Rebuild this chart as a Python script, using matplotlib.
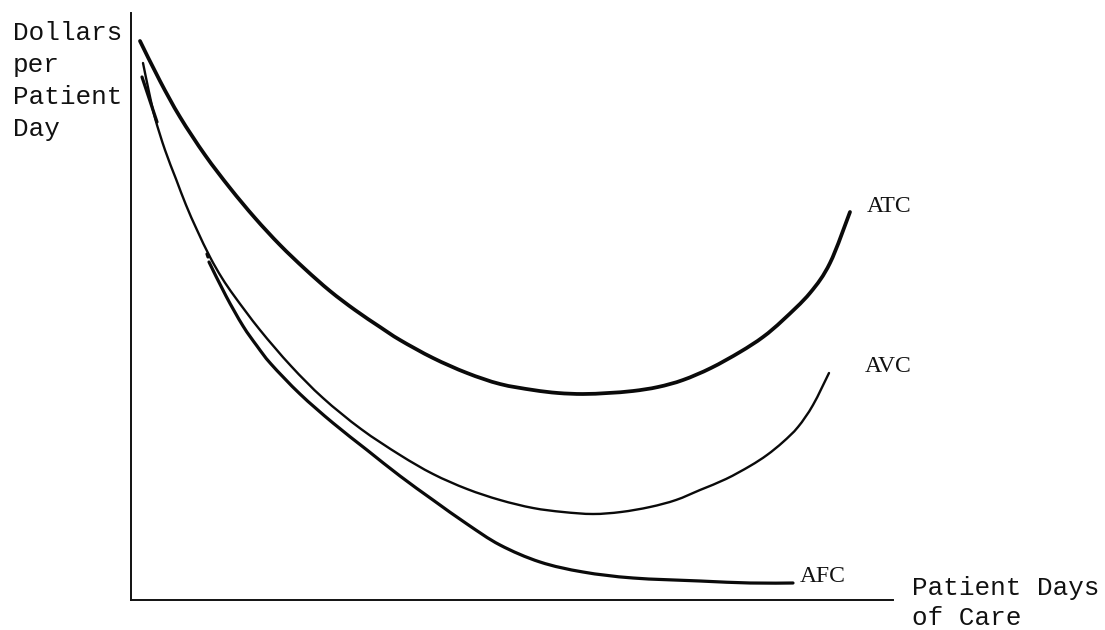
import numpy as np
import matplotlib
matplotlib.use("Agg")
import matplotlib.pyplot as plt
from matplotlib.path import Path
from matplotlib.patches import PathPatch

# ---- data (x = patient days of care, y = dollars per patient day,
#      both in arbitrary units measured from the origin) ----
atc_x = [9, 29, 49, 74, 99, 124, 149, 174, 199, 224, 249, 269, 302, 336, 369, 402, 427, 452,
         477, 502, 527, 552, 580, 609, 632, 652, 679, 699, 719]
atc_y = [559, 519, 483, 445, 412, 382, 355, 331, 309, 290, 273, 260, 242, 227, 216, 210, 207, 206,
         207, 209, 213, 220, 232, 248, 263, 280, 307, 337, 388]

avc_x = [12, 18, 24, 34, 45, 55, 66, 79, 91, 104, 129, 160, 192, 230, 269, 302, 336, 369, 402,
         432, 462, 490, 519, 545, 569, 595, 619, 636, 652, 667, 682, 698]
avc_y = [537, 508, 482, 450, 421, 395, 370, 343, 322, 303, 270, 234, 202, 171, 145, 126, 111, 100, 92,
         88, 86, 88, 93, 100, 110, 121, 134, 145, 158, 173, 195, 227]

# AFC is drawn in pieces (NaN marks the breaks in the original ink)
afc_x = [11, 26, np.nan, 76, 77, np.nan, 78, 95, 112, 126, 140, 169, 202, 236, 269, 302, 336, 369,
         409, 452, 502, 569, 619, 662]
afc_y = [523, 478, np.nan, 346, 343, np.nan, 338, 304, 274, 254, 236, 206, 177, 150, 124, 100, 76, 55,
         38, 28, 22, 19, 17, 17]

curve_labels = ["ATC", "AVC", "AFC"]
y_label_lines = ["Dollars", "per", "Patient", "Day"]
x_label_lines = ["Patient Days", "of Care"]

W, H = 1105, 630
fig = plt.figure(figsize=(W / 100, H / 100), dpi=100)
fig.patch.set_facecolor("white")

# axes: origin at pixel (131, 600), extends to (893, 13)
ax = fig.add_axes([131 / W, (H - 600) / H, (893 - 131) / W, (600 - 13) / H])
ax.set_xlim(0, 762)
ax.set_ylim(0, 587)
ax.set_facecolor("none")
for s in ["top", "right"]:
    ax.spines[s].set_visible(False)
for s in ["left", "bottom"]:
    ax.spines[s].set_linewidth(1.4)
    ax.spines[s].set_color("#111111")
ax.set_xticks([])
ax.set_yticks([])


def smooth_path(xs, ys):
    """Hand-drawn look: pass a smooth Bezier path through the read points
    (segments separated by NaN)."""
    xs = np.asarray(xs, float)
    ys = np.asarray(ys, float)
    verts, codes = [], []
    seg = []
    pts_all = list(zip(xs, ys)) + [(np.nan, np.nan)]
    for px, py in pts_all:
        if np.isnan(px):
            if seg:
                p = np.array(seg)
                verts.append(p[0]); codes.append(Path.MOVETO)
                n = len(p)
                for i in range(n - 1):
                    p0 = p[i - 1] if i > 0 else p[i]
                    p1, p2 = p[i], p[i + 1]
                    p3 = p[i + 2] if i + 2 < n else p[i + 1]
                    verts += [p1 + (p2 - p0) / 6.0, p2 - (p3 - p1) / 6.0, p2]
                    codes += [Path.CURVE4] * 3
            seg = []
        else:
            seg.append((px, py))
    return Path(np.array(verts), codes)


for xs, ys, lw in [(atc_x, atc_y, 2.7), (avc_x, avc_y, 1.7), (afc_x, afc_y, 2.3)]:
    ax.add_patch(PathPatch(smooth_path(xs, ys), facecolor="none", edgecolor="#0a0a0a",
                           lw=lw, capstyle="round", joinstyle="round", clip_on=False))

serif = dict(family="Liberation Serif", fontsize=17, color="#111111", va="baseline", ha="left")
label_pos = [(867, 212), (865, 372), (800, 582)]
for lab, (px, py) in zip(curve_labels, label_pos):
    fig.text(px / W, 1 - py / H, lab, **serif)

mono = dict(family="Liberation Mono", fontsize=18.7, color="#111111", va="baseline", ha="left")
for i, line in enumerate(y_label_lines):
    fig.text(13 / W, 1 - (40 + 32 * i) / H, line, **mono)
for i, line in enumerate(x_label_lines):
    fig.text(912 / W, 1 - (595 + 30 * i) / H, line, **mono)

fig.savefig("out.png", dpi=100, facecolor="white")
